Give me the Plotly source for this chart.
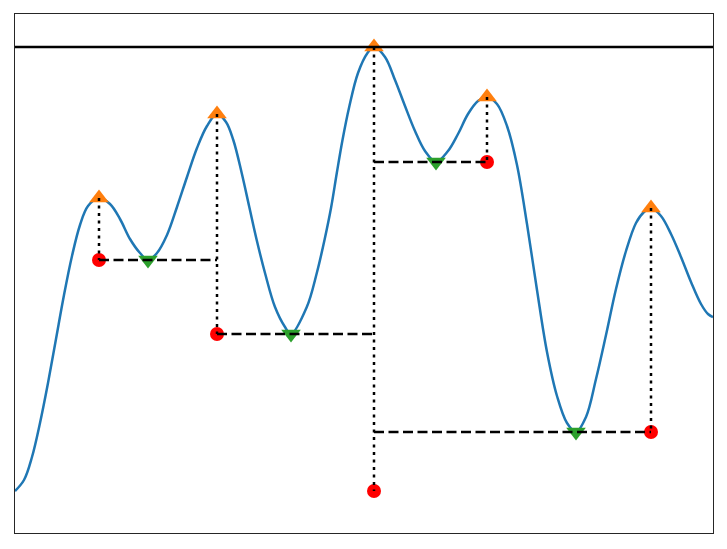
import plotly.graph_objects as go

# Signal (x: sample position, y: height in arbitrary units)
signal_x = [0, 9, 17, 25, 33, 41, 49, 57, 65, 73, 84, 95, 105, 115, 125, 133,
            142, 152, 162, 172, 182, 192, 202, 211, 218.3, 226.7, 234.3, 241.7, 250, 260, 270, 276,
            291.8, 301.8, 309.5, 316.2, 321.8, 327.5, 334.2, 343, 352.5, 359,
            370, 380, 390, 400, 410, 421, 433, 443, 453, 463, 472,
            482, 492, 502, 512, 522, 532, 542, 552, 561,
            571, 581, 591, 601, 611, 621, 629, 636,
            646, 656, 666, 676, 686, 693, 698]
signal_y = [0, 11, 34, 68, 108, 152, 196, 235, 266, 285, 293, 287, 272, 252, 238, 231,
            238, 256, 284, 314, 343, 365, 377, 369, 351, 318, 284, 251, 218, 184, 164, 157,
            184, 218, 251, 284, 318, 351, 384, 418, 438, 444,
            434, 411, 385, 360, 340, 329, 340, 357, 377, 390, 394,
            387, 365, 326, 267, 201, 139, 95, 68, 59,
            74, 112, 156, 202, 240, 268, 279, 283,
            275, 257, 234, 209, 187, 177, 174]

peak_x = [84, 202, 359, 472, 636]
peak_y = [293, 377, 444, 394, 283]
valley_x = [133, 276, 421, 561]
valley_y = [231, 157, 329, 59]
base_y = [231, 157, 0, 329, 59]   # contour (base) height of each peak

# horizontal contour lines: y, x start, x end
contour_y = [231, 157, 329, 59]
contour_x0 = [84, 202, 359, 359]
contour_x1 = [202, 359, 472, 636]

top_level = 444

fig = go.Figure()

fig.add_trace(go.Scatter(x=signal_x, y=signal_y, mode="lines",
                         line=dict(color="#1f77b4", width=2.5, shape="spline", smoothing=1.0),
                         showlegend=False, hoverinfo="skip"))
fig.add_trace(go.Scatter(x=peak_x, y=peak_y, mode="markers",
                         marker=dict(symbol="triangle-up", color="#ff7f0e", size=17, line=dict(width=0)),
                         showlegend=False))
fig.add_trace(go.Scatter(x=valley_x, y=valley_y, mode="markers",
                         marker=dict(symbol="triangle-down", color="#2ca02c", size=17, line=dict(width=0)),
                         showlegend=False))
fig.add_trace(go.Scatter(x=peak_x, y=base_y, mode="markers",
                         marker=dict(symbol="circle", color="red", size=14, line=dict(width=0)),
                         showlegend=False))

# vertical dotted lines from peak down to base
vx, vy = [], []
for px, py, by in zip(peak_x, peak_y, base_y):
    vx += [px, px, None]
    vy += [py, by, None]
fig.add_trace(go.Scatter(x=vx, y=vy, mode="lines",
                         line=dict(color="black", width=2.5, dash="3px,4.5px"),
                         showlegend=False, hoverinfo="skip"))

# horizontal dashed contour lines
hx, hy = [], []
for cy, x0, x1 in zip(contour_y, contour_x0, contour_x1):
    hx += [x0, x1, None]
    hy += [cy, cy, None]
fig.add_trace(go.Scatter(x=hx, y=hy, mode="lines",
                         line=dict(color="black", width=2.5, dash="10px,4.5px"),
                         showlegend=False, hoverinfo="skip"))

fig.add_shape(type="line", xref="paper", x0=0, x1=1, yref="y", y0=top_level, y1=top_level,
              line=dict(color="black", width=2.5))

# page body has an 8px margin: figure is sized/offset to compensate
fig.update_layout(
    width=711, height=533,
    margin=dict(l=7, r=6, t=6, b=8),
    plot_bgcolor="white", paper_bgcolor="white",
)
fig.update_xaxes(range=[0, 698], showgrid=False, zeroline=False, showticklabels=False,
                 ticks="", showline=True, linecolor="#262626", linewidth=1.3, mirror=True)
fig.update_yaxes(range=[-42, 477], showgrid=False, zeroline=False, showticklabels=False,
                 ticks="", showline=True, linecolor="#262626", linewidth=1.3, mirror=True)

fig.write_html("out.html")
